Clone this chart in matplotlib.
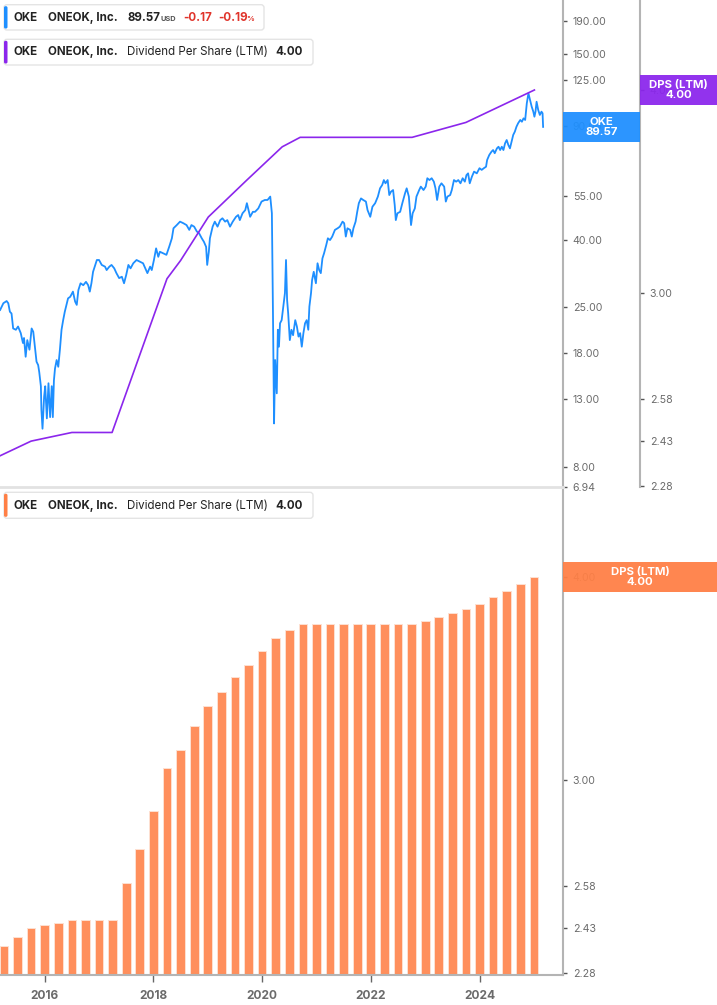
import numpy as np
import matplotlib.pyplot as plt
from matplotlib.patches import FancyBboxPatch, Rectangle
from matplotlib.transforms import IdentityTransform

plt.rcParams['font.family'] = ['Inter', 'DejaVu Sans']

# OKE share price (fractional year, USD)
price_t = [2015.18, 2015.24, 2015.30, 2015.33, 2015.36, 2015.39, 2015.42, 2015.47, 2015.51, 2015.56,
           2015.60, 2015.62, 2015.65, 2015.68, 2015.72, 2015.76, 2015.79, 2015.82, 2015.85, 2015.88,
           2015.90, 2015.93, 2015.94, 2015.96, 2015.99, 2016.01, 2016.04, 2016.07, 2016.10, 2016.13,
           2016.15, 2016.17, 2016.19, 2016.22, 2016.25, 2016.28, 2016.31, 2016.34, 2016.37, 2016.43,
           2016.47, 2016.52, 2016.56, 2016.59, 2016.62, 2016.66, 2016.71, 2016.76, 2016.80, 2016.83,
           2016.86, 2016.89, 2016.96, 2017.00, 2017.05, 2017.11, 2017.14, 2017.19, 2017.23, 2017.28,
           2017.32, 2017.37, 2017.42, 2017.46, 2017.50, 2017.54, 2017.58, 2017.63, 2017.69, 2017.75,
           2017.81, 2017.85, 2017.89, 2017.94, 2017.97, 2018.01, 2018.05, 2018.09, 2018.12, 2018.18,
           2018.24, 2018.29, 2018.34, 2018.37, 2018.43, 2018.49, 2018.55, 2018.61, 2018.66, 2018.70,
           2018.75, 2018.80, 2018.84, 2018.89, 2018.93, 2018.97, 2018.99, 2019.02, 2019.04, 2019.09,
           2019.13, 2019.18, 2019.23, 2019.27, 2019.32, 2019.36, 2019.41, 2019.46, 2019.52, 2019.56,
           2019.59, 2019.64, 2019.69, 2019.72, 2019.75, 2019.78, 2019.83, 2019.87, 2019.93, 2019.99,
           2020.05, 2020.10, 2020.15, 2020.18, 2020.20, 2020.22, 2020.24, 2020.27, 2020.29, 2020.31,
           2020.33, 2020.36, 2020.39, 2020.42, 2020.44, 2020.46, 2020.48, 2020.51, 2020.54, 2020.57,
           2020.61, 2020.64, 2020.67, 2020.70, 2020.73, 2020.76, 2020.79, 2020.82, 2020.85, 2020.87,
           2020.90, 2020.92, 2020.95, 2020.99, 2021.02, 2021.05, 2021.08, 2021.11, 2021.14, 2021.18,
           2021.21, 2021.25, 2021.29, 2021.34, 2021.39, 2021.43, 2021.48, 2021.51, 2021.54, 2021.57,
           2021.62, 2021.65, 2021.68, 2021.72, 2021.75, 2021.78, 2021.82, 2021.86, 2021.91, 2021.94,
           2021.99, 2022.03, 2022.08, 2022.13, 2022.17, 2022.21, 2022.24, 2022.27, 2022.31, 2022.34,
           2022.37, 2022.41, 2022.44, 2022.46, 2022.49, 2022.54, 2022.58, 2022.63, 2022.66, 2022.70,
           2022.74, 2022.77, 2022.81, 2022.84, 2022.89, 2022.92, 2022.97, 2023.01, 2023.04, 2023.08,
           2023.12, 2023.16, 2023.19, 2023.22, 2023.26, 2023.30, 2023.35, 2023.38, 2023.41, 2023.46,
           2023.49, 2023.53, 2023.57, 2023.61, 2023.65, 2023.69, 2023.73, 2023.76, 2023.79, 2023.82,
           2023.86, 2023.90, 2023.95, 2024.00, 2024.04, 2024.08, 2024.12, 2024.14, 2024.18, 2024.22,
           2024.25, 2024.28, 2024.32, 2024.35, 2024.38, 2024.41, 2024.44, 2024.47, 2024.50, 2024.53,
           2024.56, 2024.59, 2024.62, 2024.65, 2024.68, 2024.71, 2024.75, 2024.78, 2024.81, 2024.84,
           2024.87, 2024.90, 2024.93, 2024.96, 2024.99, 2025.01, 2025.03, 2025.05, 2025.08, 2025.11,
           2025.14, 2025.16, 2025.17]
price_v = [24.4, 25.6, 26.0, 25.6, 24.1, 23.8, 21.4, 21.2, 21.7, 20.7,
           19.3, 20.0, 17.5, 19.7, 18.4, 21.4, 20.9, 18.8, 16.9, 16.5,
           15.7, 14.2, 12.0, 10.5, 13.2, 14.2, 11.3, 14.5, 11.4, 14.2,
           11.4, 14.8, 16.1, 17.1, 16.3, 18.4, 21.2, 22.7, 24.1, 26.5,
           26.8, 27.8, 25.9, 25.3, 28.1, 29.5, 29.1, 29.8, 29.1, 27.8,
           29.5, 32.0, 34.8, 34.8, 33.6, 33.2, 32.4, 33.2, 33.6, 32.8,
           31.7, 30.6, 30.9, 29.5, 31.3, 33.6, 32.8, 34.0, 34.8, 34.4,
           34.0, 32.8, 31.7, 33.2, 32.4, 34.8, 37.8, 35.6, 36.9, 36.5,
           36.1, 38.2, 40.6, 43.6, 44.6, 45.7, 45.2, 44.6, 43.1, 44.6,
           44.1, 42.6, 42.1, 40.6, 39.6, 38.2, 33.6, 36.9, 40.6, 44.1,
           45.7, 44.1, 46.2, 46.8, 45.7, 46.2, 44.1, 45.7, 47.3, 47.9,
           46.2, 48.5, 49.6, 52.1, 49.6, 47.3, 49.0, 49.0, 50.2, 52.7,
           53.3, 53.3, 54.6, 48.5, 23.9, 10.9, 17.1, 13.5, 21.2, 18.8,
           22.2, 22.7, 25.0, 27.5, 34.8, 26.2, 23.8, 19.7, 21.2, 20.4,
           22.7, 21.7, 20.2, 20.7, 18.8, 20.7, 22.2, 22.7, 21.2, 25.0,
           27.5, 30.2, 32.0, 29.5, 34.0, 32.4, 31.7, 35.2, 36.5, 38.7,
           40.6, 40.1, 41.1, 43.1, 43.6, 44.1, 45.7, 45.2, 41.1, 43.6,
           43.1, 41.1, 43.6, 45.7, 49.0, 52.1, 53.9, 53.3, 52.7, 49.6,
           47.3, 50.8, 52.1, 54.6, 57.9, 59.3, 61.4, 60.0, 61.4, 55.2,
           56.5, 57.2, 51.4, 46.2, 48.5, 49.0, 52.1, 55.9, 57.9, 54.6,
           44.6, 48.5, 50.2, 54.6, 57.2, 58.6, 57.2, 58.6, 62.2, 61.4,
           62.2, 60.7, 57.9, 53.3, 58.6, 60.0, 58.6, 52.7, 54.6, 55.2,
           57.2, 61.4, 60.7, 61.4, 60.0, 62.2, 60.7, 63.6, 64.4, 60.0,
           62.9, 65.2, 64.4, 66.8, 66.0, 66.8, 67.5, 70.8, 73.4, 75.1,
           76.0, 74.3, 76.9, 77.8, 76.0, 77.8, 76.0, 79.7, 81.6, 78.8,
           76.9, 80.6, 84.6, 86.6, 89.7, 91.9, 94.1, 92.9, 95.2, 94.1,
           105.9, 113.7, 108.4, 103.4, 99.8, 96.3, 99.8, 107.1, 101.0, 97.5,
           99.8, 98.7, 89.57]

# Dividend per share (LTM) line over the price panel
dps_line_t = [2015.18, 2015.75, 2016.50, 2017.24, 2018.25, 2018.50, 2019.01,
              2019.72, 2020.37, 2020.70, 2022.76, 2023.75, 2025.01]
dps_line_v = [2.38, 2.43, 2.46, 2.46, 3.06, 3.14, 3.34,
              3.52, 3.69, 3.74, 3.74, 3.82, 4.00]

# Quarterly dividend per share (LTM) bars
dps_quarters = ['2015Q2', '2015Q3', '2015Q4',
                '2016Q1', '2016Q2', '2016Q3', '2016Q4',
                '2017Q1', '2017Q2', '2017Q3', '2017Q4',
                '2018Q1', '2018Q2', '2018Q3', '2018Q4',
                '2019Q1', '2019Q2', '2019Q3', '2019Q4',
                '2020Q1', '2020Q2', '2020Q3', '2020Q4',
                '2021Q1', '2021Q2', '2021Q3', '2021Q4',
                '2022Q1', '2022Q2', '2022Q3', '2022Q4',
                '2023Q1', '2023Q2', '2023Q3', '2023Q4',
                '2024Q1', '2024Q2', '2024Q3', '2024Q4',
                '2025Q1']
dps_values = [2.37, 2.40, 2.43,
              2.44, 2.45, 2.46, 2.46,
              2.46, 2.46, 2.59, 2.72,
              2.87, 3.05, 3.13, 3.24,
              3.33, 3.40, 3.47, 3.53,
              3.60, 3.67, 3.71, 3.74,
              3.74, 3.74, 3.74, 3.74,
              3.74, 3.74, 3.74, 3.74,
              3.76, 3.78, 3.80, 3.82,
              3.85, 3.89, 3.92, 3.96,
              4.00]

year_ticks = [2016, 2018, 2020, 2022, 2024]
price_ticks = [6.94, 8, 13, 18, 25, 40, 55, 90, 125, 150, 190]
dps_ticks = [2.28, 2.43, 2.58, 3.00, 4.00]
last_price = 89.57
last_dps = 4.00

BLUE = '#1e8fff'
PURPLE = '#8b26ec'
ORANGE = '#ff8f5c'
ORANGE_BOX = '#ff7f45'
GREY_TXT = '#6b6b6b'
SPINE = '#b4b4b4'

W, H = 717, 1005
fig = plt.figure(figsize=(W / 100, H / 100), dpi=100, facecolor='white')
px = IdentityTransform()

xlim = (2015.178, 2025.536)

def style_right(a, ticks):
    a.set_yscale('log')
    a.yaxis.tick_right()
    a.yaxis.set_label_position('right')
    a.yaxis.set_ticks(ticks)
    a.yaxis.set_ticklabels(['%.2f' % t for t in ticks])
    a.yaxis.set_minor_locator(plt.NullLocator())
    a.tick_params(axis='y', which='major', right=True, left=False, labelright=True, labelleft=False,
                  length=3, width=1, color='#555555', labelcolor=GREY_TXT, labelsize=7.6, pad=4)

# ---- top panel: price + DPS line
ax = fig.add_axes([0, 1 - 487 / H, 563 / W, 487 / H])
ax2 = ax.twinx()

ax.plot(price_t, price_v, color=BLUE, lw=1.3)
ax.set_xlim(*xlim)
style_right(ax, price_ticks)
ax.set_ylim(6.94, 220.6)
ax.set_xticks([])
for s in ['left', 'top']:
    ax.spines[s].set_visible(False)
ax.spines['right'].set_color(SPINE)
ax.spines['right'].set_linewidth(1.5)
ax.spines['bottom'].set_color('#e2e2e2')
ax.spines['bottom'].set_linewidth(2)

ax2.plot(dps_line_t, dps_line_v, color=PURPLE, lw=1.2)
style_right(ax2, dps_ticks)
ax2.set_ylim(2.2768, 4.545)
ax2.set_xlim(*xlim)
for s in ['left', 'top', 'bottom']:
    ax2.spines[s].set_visible(False)
ax2.spines['right'].set_position(('axes', 640 / 563))
ax2.spines['right'].set_color(SPINE)
ax2.spines['right'].set_linewidth(1.5)

# ---- bottom panel: DPS bars
bx = fig.add_axes([0, 1 - 975 / H, 563 / W, 485 / H])
q_pos = [int(q[:4]) + (int(q[-1]) - 1) / 4 for q in dps_quarters]
bx.bar(q_pos, dps_values, width=0.16, color=ORANGE, edgecolor='#fde0d2', linewidth=0.7,
       bottom=0)
bx.set_xlim(*xlim)
style_right(bx, dps_ticks)
bx.set_ylim(2.2745, 4.525)
bx.set_xticks(year_ticks)
bx.set_xticklabels([str(y) for y in year_ticks])
bx.tick_params(axis='x', length=5, width=1, color='#666666', labelcolor=GREY_TXT,
               labelsize=8.6, pad=6)
for lab in bx.get_xticklabels():
    lab.set_fontweight('bold')
for s in ['left', 'top']:
    bx.spines[s].set_visible(False)
for s in ['right', 'bottom']:
    bx.spines[s].set_color(SPINE)
    bx.spines[s].set_linewidth(1.5)

# ---- value tags on the axes
def ydisp(a, v):
    return a.transData.transform((xlim[0], v))[1]

def tag(x0, x1, yc, color, text):
    fig.add_artist(Rectangle((x0, yc - 15), x1 - x0, 30, transform=px, facecolor=color,
                             edgecolor='none', alpha=0.94, zorder=5))
    fig.text((x0 + x1) / 2, yc, text, transform=px, ha='center', va='center', color='white',
             fontsize=8.2, fontweight='bold', linespacing=1.0, zorder=6)

tag(563, 640, ydisp(ax, last_price), BLUE, 'OKE\n%.2f' % last_price)
tag(640, 717, ydisp(ax2, last_dps), PURPLE, 'DPS (LTM)\n%.2f' % last_dps)
tag(563, 717, ydisp(bx, last_dps), ORANGE_BOX, 'DPS (LTM)\n%.2f' % last_dps)

# ---- legend badges
def badge(y0, y1, x1, color):
    fig.add_artist(FancyBboxPatch((4, H - y1), x1 - 4, y1 - y0, boxstyle='round,pad=0,rounding_size=3',
                                  transform=px, facecolor='white', edgecolor='#e4e4e4', lw=1, zorder=5))
    fig.add_artist(FancyBboxPatch((4, H - y1 + 1.5), 3.5, y1 - y0 - 3,
                                  boxstyle='round,pad=0,rounding_size=1.5',
                                  transform=px, facecolor=color, edgecolor='none', zorder=6))

def txt(x, base, s, **kw):
    kw.setdefault('fontsize', 8.3)
    kw.setdefault('color', '#222222')
    fig.text(x, H - base, s, transform=px, ha='left', va='baseline', zorder=7, **kw)

badge(4.7, 30, 264, BLUE)
txt(13.3, 20.7, 'OKE', fontweight='bold')
txt(48.3, 20.7, 'ONEOK, Inc.', fontweight='bold')
txt(127, 20.7, '%.2f' % last_price, fontweight='bold')
txt(160.7, 20.7, 'USD', fontweight='bold', fontsize=5.3, color='#555555')
txt(183, 20.7, '-0.17', fontweight='bold', color='#e0342b')
txt(218, 20.7, '-0.19', fontweight='bold', color='#e0342b')
txt(246, 20.7, '%', fontweight='bold', color='#e0342b', fontsize=5.5)

for (y0, y1, base, color) in [(39.3, 65, 55, PURPLE), (492.3, 518.3, 509, ORANGE_BOX)]:
    badge(y0, y1, 313, color)
    txt(13.3, base, 'OKE', fontweight='bold')
    txt(48.3, base, 'ONEOK, Inc.', fontweight='bold')
    txt(126.7, base, 'Dividend Per Share (LTM)')
    txt(275.7, base, '%.2f' % last_dps, fontweight='bold')

fig.savefig('out.png', dpi=100, facecolor='white')
